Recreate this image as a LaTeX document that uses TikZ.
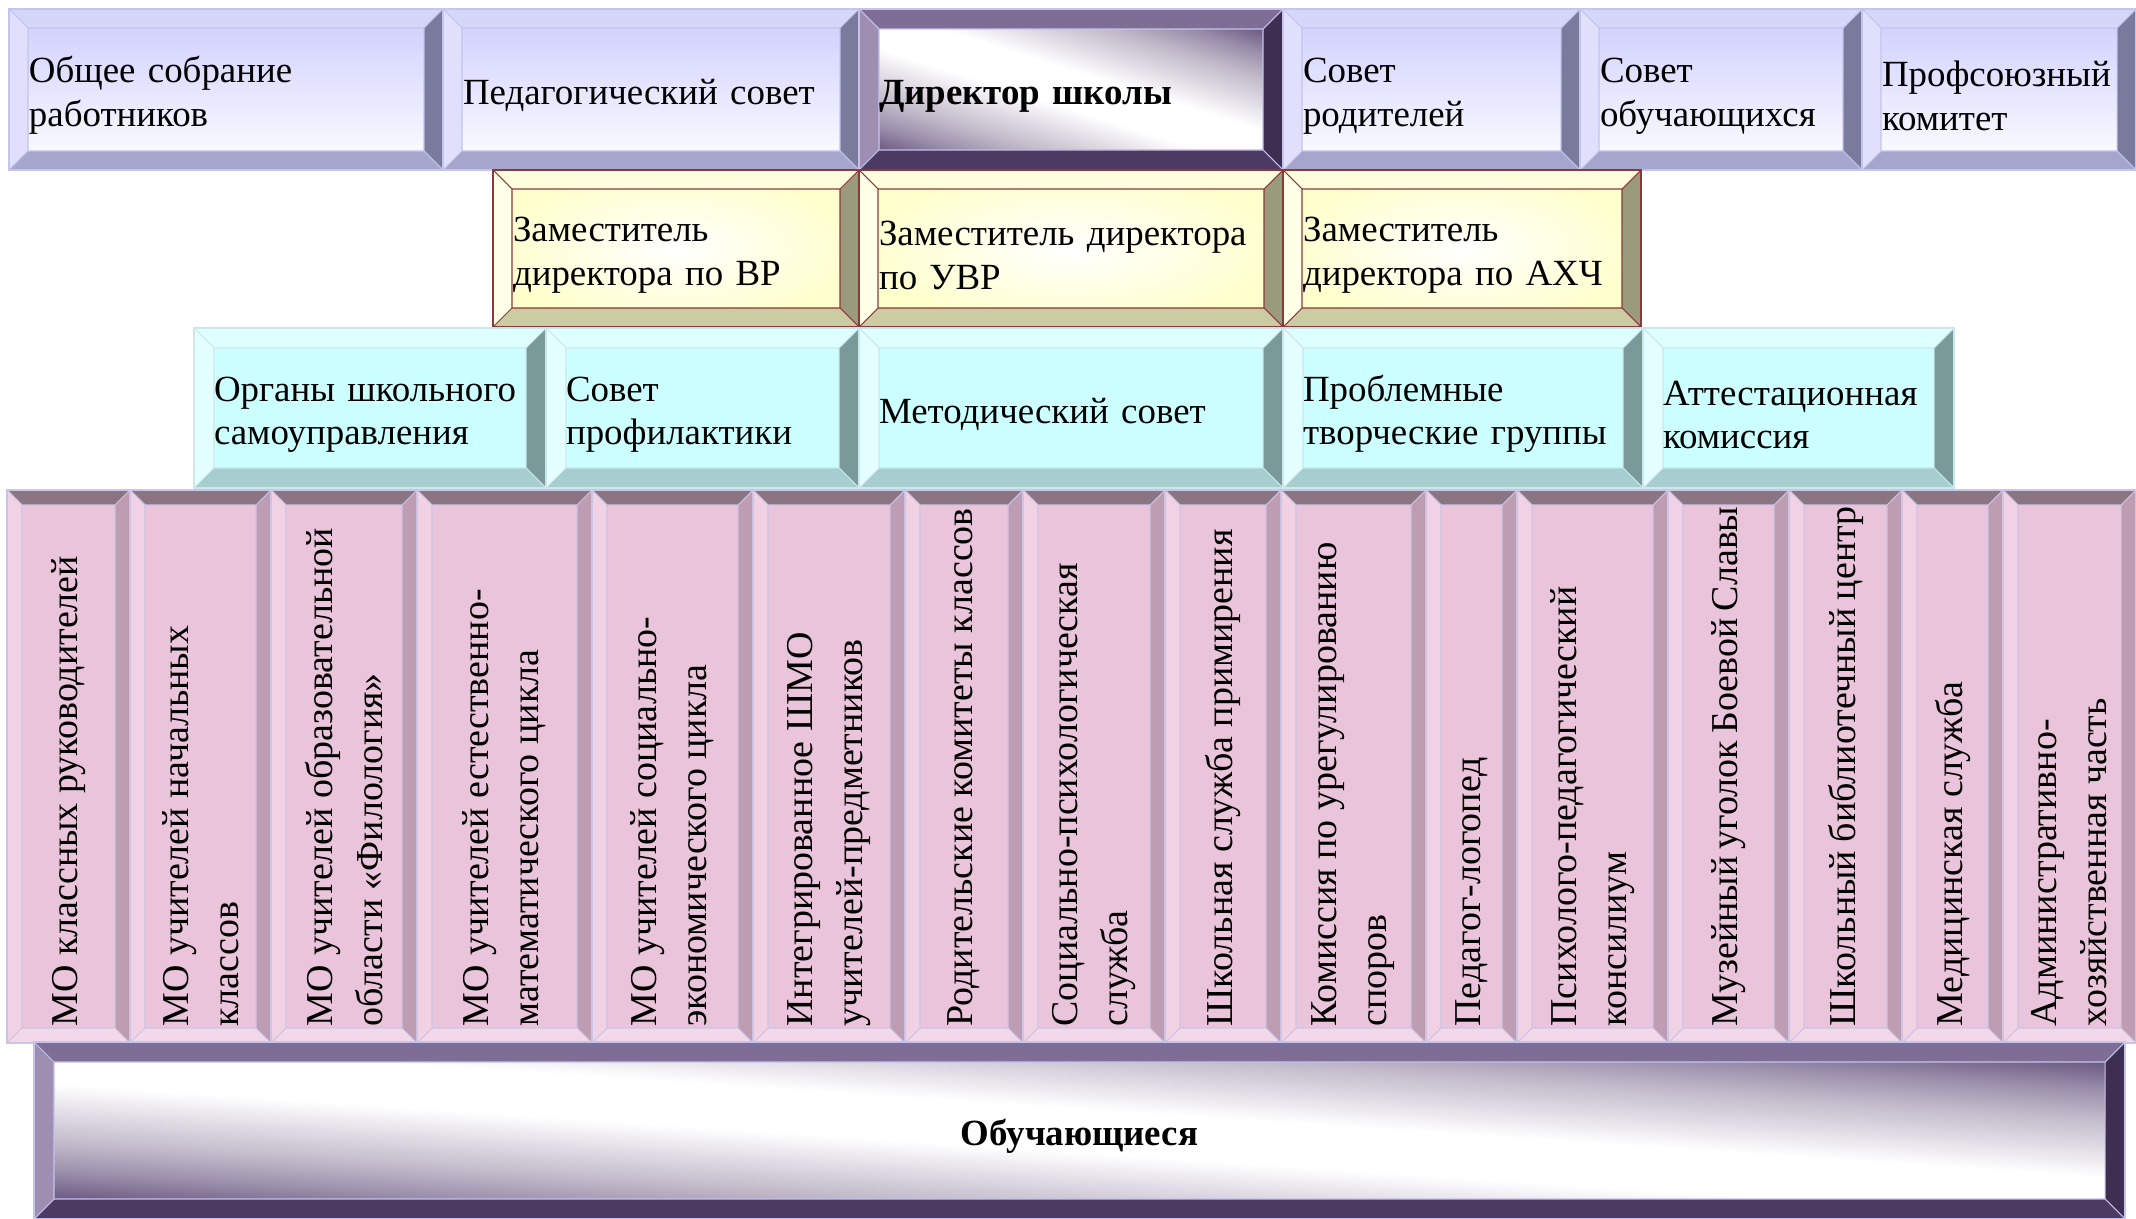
\documentclass[tikz,border=0pt]{standalone}
\usepackage{graphicx}
\usepackage{fontspec}
\setmainfont{Liberation Serif}
\usetikzlibrary{chains,positioning,calc,backgrounds}

\definecolor{lavface}{HTML}{CCCCFF}
\definecolor{lavtop}{HTML}{D6D6FA}
\definecolor{lavleft}{HTML}{E0E0FC}
\definecolor{lavright}{HTML}{7A7A9C}
\definecolor{lavbottom}{HTML}{A6A6CC}
\definecolor{lavline}{HTML}{C4C4EE}
\definecolor{dirtop}{HTML}{7E6E96}
\definecolor{dirleft}{HTML}{9E8EB2}
\definecolor{dirright}{HTML}{3E2E52}
\definecolor{dirbottom}{HTML}{4C3A62}
\definecolor{sheen0}{HTML}{6B5A82}
\definecolor{sheen1}{HTML}{9A8EAA}
\definecolor{sheen2}{HTML}{C0B8C8}
\definecolor{sheen3}{HTML}{E2DEE6}
\definecolor{yelface}{HTML}{FFFFCC}
\definecolor{yeltop}{HTML}{FFFFDE}
\definecolor{yelleft}{HTML}{FFFFE8}
\definecolor{yelright}{HTML}{9A9A7C}
\definecolor{yelbottom}{HTML}{CCCCA2}
\definecolor{yelline}{HTML}{8B3A3A}
\definecolor{cyface}{HTML}{CCFFFF}
\definecolor{cytop}{HTML}{DDFFFF}
\definecolor{cyleft}{HTML}{E4FFFF}
\definecolor{cyright}{HTML}{7A9A9A}
\definecolor{cybottom}{HTML}{A6CECE}
\definecolor{cyline}{HTML}{CCE6EE}
\definecolor{pkface}{HTML}{EAC4DA}
\definecolor{pktop}{HTML}{8C7582}
\definecolor{pkleft}{HTML}{F0D2E4}
\definecolor{pkright}{HTML}{BE9CB2}
\definecolor{pkbottom}{HTML}{F2D8E8}
\definecolor{pkline}{HTML}{CCC4E4}

\pgfdeclareverticalshading{sheen}{100bp}{color(0bp)=(sheen0); color(25bp)=(sheen0); color(30bp)=(sheen1); color(35bp)=(sheen2); color(41bp)=(sheen3); color(46bp)=(white); color(54bp)=(white); color(59bp)=(sheen3); color(65bp)=(sheen2); color(70bp)=(sheen1); color(75bp)=(sheen0); color(100bp)=(sheen0)}

% top, left, right, bottom, line, inset
\newcommand\bevelframe[6]{%
  \path (path picture bounding box.south west) coordinate (pa)
        (path picture bounding box.north west) coordinate (pb)
        (path picture bounding box.north east) coordinate (pc)
        (path picture bounding box.south east) coordinate (pd);
  \path ([shift={(#6,#6)}]pa) coordinate (qa)
        ([shift={(#6,-#6)}]pb) coordinate (qb)
        ([shift={(-#6,-#6)}]pc) coordinate (qc)
        ([shift={(-#6,#6)}]pd) coordinate (qd);
  \fill[#1] (pb) -- (pc) -- (qc) -- (qb) -- cycle;
  \fill[#2] (pa) -- (pb) -- (qb) -- (qa) -- cycle;
  \fill[#3] (pd) -- (pc) -- (qc) -- (qd) -- cycle;
  \fill[#4] (pa) -- (pd) -- (qd) -- (qa) -- cycle;
  \draw[#5,line width=0.3pt] (qa) rectangle (qc) (pa) -- (qa) (pb) -- (qb) (pc) -- (qc) (pd) -- (qd);
}
\newcommand\vlabel[1]{\rotatebox{90}{\parbox{5.2cm}{\raggedright #1}}}

\begin{document}
\begin{tikzpicture}
\useasboundingbox (0,0) rectangle (21.36,-12.19);
\tikzstyle{unit}=[rectangle,outer sep=0pt,inner xsep=0.2cm,inner ysep=0.05cm,align=left,line width=0.4pt,font=\fontsize{10.5}{12.4}\selectfont,execute at begin node={\rule{0pt}{10.8pt}}]
\tikzstyle{lav}=[unit,draw=lavline,top color=lavface,bottom color=white,minimum height=1.61cm,path picture={\bevelframe{lavtop}{lavleft}{lavright}{lavbottom}{lavline}{0.19cm}}]
\tikzstyle{chief}=[unit,draw=lavline,path picture={\bevelframe{dirtop}{dirleft}{dirright}{dirbottom}{lavline}{0.2cm}}]
\tikzstyle{deputy}=[unit,draw=yelline,line width=0.3pt,inner color=white,outer color=yelface,minimum height=1.57cm,path picture={\bevelframe{yeltop}{yelleft}{yelright}{yelbottom}{yelline}{0.19cm}}]
\tikzstyle{council}=[unit,draw=cyline,fill=cyface,minimum height=1.6cm,path picture={\bevelframe{cytop}{cyleft}{cyright}{cybottom}{cyline}{0.2cm}}]
\tikzstyle{branch}=[unit,draw=pkline,fill=pkface,inner sep=0.05cm,minimum height=5.53cm,font=\fontsize{10.8}{14.2}\selectfont,execute at begin node={},path picture={\bevelframe{pktop}{pkleft}{pkright}{pkbottom}{pkline}{0.15cm}}]
\tikzset{wd/.style={minimum width=#1,text width=#1-0.4cm}}
\begin{scope}[start chain=1 going right,node distance=0pt,shift={(0.09,-0.09)}]
    \node [on chain=1,lav,wd=4.34cm,anchor=north west] (assembly) {Общее~собрание\\работников};
    \node [on chain=1,lav,wd=4.16cm] (pedsovet) {Педагогический~совет};
    \node [on chain=1,chief,wd=4.24cm,minimum height=1.61cm] (director) {\textbf{Директор~школы}};
    \node [on chain=1,lav,wd=2.97cm] (parents) {Совет\\родителей};
    \node [on chain=1,lav,wd=2.82cm] (students) {Совет\\обучающихся};
    \node [on chain=1,lav,wd=2.74cm] (union) {Профсоюзный\\комитет};
\end{scope}
\begin{scope}[start chain=2 going right,node distance=0pt,shift={(4.93,-1.70)}]
    \node [on chain=2,deputy,wd=3.66cm,anchor=north west] (deputyvr) {Заместитель\\директора~по~ВР};
    \node [on chain=2,deputy,wd=4.24cm] (deputyuvr) {Заместитель~директора\\по~УВР};
    \node [on chain=2,deputy,wd=3.58cm] (deputyahch) {Заместитель\\директора~по~АХЧ};
\end{scope}
\begin{scope}[start chain=3 going right,node distance=0pt,shift={(1.94,-3.28)}]
    \node [on chain=3,council,wd=3.52cm,anchor=north west] (selfgov) {Органы~школьного\\самоуправления};
    \node [on chain=3,council,wd=3.13cm] (prevention) {Совет\\профилактики};
    \node [on chain=3,council,wd=4.24cm] (methods) {Методический~совет};
    \node [on chain=3,council,wd=3.60cm] (groups) {Проблемные\\творческие~группы};
    \node [on chain=3,council,wd=3.11cm] (attest) {Аттестационная\\комиссия};
\end{scope}
\begin{scope}[start chain=4 going right,node distance=0pt,shift={(0.07,-4.90)}]
    \node [on chain=4,branch,minimum width=1.23cm,anchor=north west] (moclass) {\vlabel{МО~классных~руководителей}};
    \node [on chain=4,branch,minimum width=1.41cm] (moprim) {\vlabel{МО~учителей~начальных\\классов}};
    \node [on chain=4,branch,minimum width=1.46cm] (mophil) {\vlabel{МО~учителей~образовательной\\области~«Филология»}};
    \node [on chain=4,branch,minimum width=1.75cm] (monat) {\vlabel{МО~учителей~естественно-\\математического~цикла}};
    \node [on chain=4,branch,minimum width=1.61cm] (mosoc) {\vlabel{МО~учителей~социально-\\экономического~цикла}};
    \node [on chain=4,branch,minimum width=1.52cm] (shmo) {\vlabel{Интегрированное~ШМО\\учителей-предметников}};
    \node [on chain=4,branch,minimum width=1.18cm] (parcom) {\vlabel{Родительские~комитеты~классов}};
    \node [on chain=4,branch,minimum width=1.42cm] (psych) {\vlabel{Социально-психологическая\\служба}};
    \node [on chain=4,branch,minimum width=1.16cm] (mediation) {\vlabel{Школьная~служба~примирения}};
    \node [on chain=4,branch,minimum width=1.45cm] (disputes) {\vlabel{Комиссия~по~урегулированию\\споров}};
    \node [on chain=4,branch,minimum width=0.91cm] (logoped) {\vlabel{Педагог-логопед}};
    \node [on chain=4,branch,minimum width=1.51cm] (ppk) {\vlabel{Психолого-педагогический\\консилиум}};
    \node [on chain=4,branch,minimum width=1.21cm] (museum) {\vlabel{Музейный~уголок~Боевой~Славы}};
    \node [on chain=4,branch,minimum width=1.13cm] (library) {\vlabel{Школьный~библиотечный~центр}};
    \node [on chain=4,branch,minimum width=1.01cm] (medical) {\vlabel{Медицинская~служба}};
    \node [on chain=4,branch,minimum width=1.33cm] (ahch) {\vlabel{Административно-\\хозяйственная~часть}};
\end{scope}
\node [chief,align=center,minimum width=20.91cm,minimum height=1.77cm,anchor=north west] (pupils) at (0.34,-10.42) {\textbf{Обучающиеся}};
% sheen behind the two dark frames
\begin{scope}[on background layer]
  \begin{scope}
    \clip (director.south west) rectangle (director.north east);
    \begin{scope}[transform canvas={shift={(director.center)},yslant=-0.315}]
      \shade[shading=sheen] (-2.12,-1.21) rectangle (2.12,1.21);
    \end{scope}
  \end{scope}
  \begin{scope}
    \clip (pupils.south west) rectangle (pupils.north east);
    \begin{scope}[transform canvas={shift={(pupils.center)},yslant=-0.0668}]
      \shade[shading=sheen] (-10.455,-1.37) rectangle (10.455,1.37);
    \end{scope}
  \end{scope}
\end{scope}
\end{tikzpicture}
\end{document}
